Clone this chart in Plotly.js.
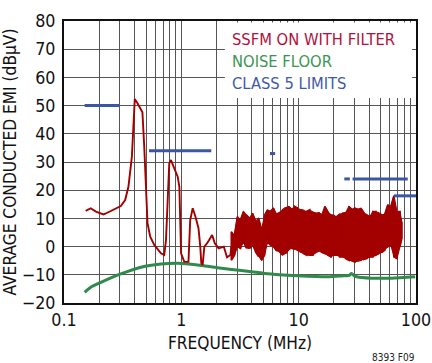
<!DOCTYPE html>
<html><head><meta charset="utf-8">
<script src="https://cdn.plot.ly/plotly-3.0.1.min.js"></script>
<style>html,body{margin:0;padding:0;background:#fff}#chart{width:432px;height:363px}</style>
</head><body><div id="chart"></div>
<script>
// SSFM ON WITH FILTER: low-frequency trace (MHz, dBuV)
const redF = [0.153,0.169,0.187,0.217,0.234,0.267,0.305,0.332,0.354,0.379,0.391,0.401,0.423,0.466,0.483,0.499,0.515,0.543,0.588,0.670,0.715,0.740,0.764,0.789,0.816,0.871,0.931,0.962,0.975,0.995,1.06,1.15,1.19,1.25,1.32,1.40,1.45,1.48,1.52,1.57,1.66,1.77,1.83,1.93,2.08,2.30,2.45,2.62,2.67];
const redV = [12.7,13.6,12.4,11.4,12.0,13.2,14.4,16.5,21.2,31.9,43.7,52.3,50.8,47.6,35.4,20.1,8.3,3.5,0.6,-2.4,-3.0,2.3,17.7,29.5,30.7,27.8,24.8,21.2,8.3,-2.4,-5.4,-5.4,9.4,13.6,10.6,6.5,0,-5.9,-6.5,0,1.2,2.9,4.1,1.2,-0.6,0,-3.8,-3.0,0];
// SSFM ON WITH FILTER: dense band above ~2.7 MHz (upper / lower envelope)
const bandF = [2.67,2.84,3.01,3.19,3.39,3.59,3.81,4.04,4.29,4.55,4.83,5.12,5.43,5.76,6.11,6.49,6.88,7.30,7.74,8.22,8.72,9.25,9.80,10.4,11.0,11.7,12.4,13.2,14.0,14.8,15.7,16.7,17.7,18.8,19.9,21.1,22.4,23.8,25.2,26.8,28.4,30.1,31.9,33.9,35.9,38.1,40.4,42.9,45.5,48.3,51.2,54.3,57.6,61.1,64.9,68.8,73.0,75.6];
const bandHi = [5.3,4,10.6,9.4,12.4,11.2,10,11.8,9,10,5.9,11,13,12.5,13.6,11.5,12,13,13.8,14.2,13.2,14.2,13.6,13,12.8,12.4,13,12.2,11.8,12,11.2,14.2,12.4,11.2,11,10.6,11.5,11.8,12,14.2,13.2,13.6,13.2,13.6,12,11.2,10.6,12.4,12.4,11.8,11.2,11.5,14.8,14.2,18,12.4,12.4,8.8];
const bandLo = [-4.8,-3,0,-0.6,1.7,-0.5,-0.6,0.5,-1.8,-3.5,-4.8,-3,1.7,0.5,0,-1.5,-1.8,-3,-2.4,-1,-0.6,-0.8,-1.2,-1.8,-2.4,-3,-3,-3,-2,-1.5,-2,-2.4,-3,-3.6,-3,-3,-3.6,-3.6,-4.2,-4.8,-5,-5.4,-5,-4.8,-4.5,-4.2,-3.6,-3.6,-3,-2.4,-2,-1.2,0,0.6,-3.6,-4.2,0,3];
// NOISE FLOOR
const floorF = [0.15,0.169,0.206,0.305,0.453,0.67,0.931,1.38,2.04,3.24,5.11,9.85,17.7,23.2,27.0,28.2,29.5,31.3,41.8,62.0,98.3];
const floorV = [-16.2,-14.4,-12.7,-9.7,-7.3,-6.2,-5.9,-6.5,-7.5,-8.5,-9.5,-10.3,-10.7,-10.4,-10.2,-9.5,-10.2,-10.7,-11.2,-11.2,-10.7];
// CLASS 5 LIMITS
const limitStart = [0.15,0.53,5.7,24.5,28.8,65];
const limitEnd   = [0.30,1.8,6.3,27.3,85,108];
const limitLevel = [50,34,33,24,24,18];
// Axis ticks
const yTicks = [-20,-10,0,10,20,30,40,50,60,70,80];
const xTickVals = [0.1,0.2,0.3,0.4,0.5,0.6,0.7,0.8,0.9,1,2,3,4,5,6,7,8,9,10,20,30,40,50,60,70,80,90,100];
const xTickText = xTickVals.map(v => ([0.1,1,10,100].includes(v) ? String(v) : ''));

const FONT = "'DejaVu Sans Condensed','Liberation Sans Narrow',sans-serif";
const FS = 17.2;
const LFS = 16.4;

// band polygon: upper envelope then lower envelope reversed
const bx = bandF.concat(bandF.slice().reverse());
const by = bandHi.concat(bandLo.slice().reverse());
// jagged strokes inside the band
const zx = [], zy = [];
bandF.forEach((f,i) => {
  if (i % 2 === 0) { zx.push(f, f); zy.push(bandHi[i], bandLo[i]); }
  else { zx.push(f, f); zy.push(bandLo[i], bandHi[i]); }
});

const lx = [], ly = [];
limitStart.forEach((s,i) => { lx.push(s, limitEnd[i], null); ly.push(limitLevel[i], limitLevel[i], null); });

const RED = '#a30000';
const traces = [
  {x: floorF, y: floorV, mode:'lines', line:{color:'#2f8a4c', width:3, shape:'spline', smoothing:0.6}, hoverinfo:'skip'},
  {x: redF, y: redV, mode:'lines', line:{color:RED, width:1.9}, hoverinfo:'skip'},
  {x: bx, y: by, mode:'lines', fill:'toself', fillcolor:RED, line:{color:RED, width:1.2}, hoverinfo:'skip'},
  {x: zx, y: zy, mode:'lines', line:{color:RED, width:1.8}, hoverinfo:'skip'},
  {x: lx, y: ly, mode:'lines', line:{color:'#3b56a5', width:3}, hoverinfo:'skip', connectgaps:false}
];

const layout = {
  width:432, height:363,
  margin:{l:64, r:16, t:21, b:60},
  paper_bgcolor:'#fff', plot_bgcolor:'#fff',
  showlegend:false,
  font:{family:FONT, size:FS, color:'#111'},
  xaxis:{type:'log', range:[-1,2], tickvals:xTickVals, ticktext:xTickText, ticks:'',
    showgrid:true, gridcolor:'#555', gridwidth:1, zeroline:false,
    showline:true, mirror:true, linecolor:'#111', linewidth:2,
    tickfont:{family:FONT, size:FS+0.5, color:'#111'},
    title:{text:'FREQUENCY (MHz)', font:{family:FONT, size:FS, color:'#111'}, standoff:8}},
  yaxis:{range:[-20,80], tickvals:yTicks, ticks:'', showgrid:true, gridcolor:'#555', gridwidth:1, zeroline:false,
    showline:true, mirror:true, linecolor:'#111', linewidth:2, ticklabelstandoff:3,
    tickfont:{family:FONT, size:FS+0.5, color:'#111'},
    title:{text:'AVERAGE CONDUCTED EMI (dBμV)', font:{family:FONT, size:FS, color:'#111'}, standoff:3}},
  shapes:[{type:'rect', xref:'paper', yref:'paper', x0:0.457, x1:0.989, y0:0.727, y1:0.995, fillcolor:'#fff', line:{width:0}, layer:'above'}],
  annotations:[
    {xref:'paper', yref:'paper', x:0.4716, y:0.936, xanchor:'left', yanchor:'middle', showarrow:false, text:'SSFM ON WITH FILTER', font:{family:FONT, size:LFS, color:'#b3103c'}},
    {xref:'paper', yref:'paper', x:0.4716, y:0.856, xanchor:'left', yanchor:'middle', showarrow:false, text:'NOISE FLOOR', font:{family:FONT, size:LFS, color:'#3a9552'}},
    {xref:'paper', yref:'paper', x:0.4716, y:0.778, xanchor:'left', yanchor:'middle', showarrow:false, text:'CLASS 5 LIMITS', font:{family:FONT, size:LFS, color:'#3f5aa8'}},
    {xref:'paper', yref:'paper', x:1.003, y:-0.195, xanchor:'right', yanchor:'middle', showarrow:false, text:'8393 F09', font:{family:FONT, size:10, color:'#222'}}
  ]
};
Plotly.newPlot('chart', traces, layout, {staticPlot:true, displayModeBar:false});
</script></body></html>
